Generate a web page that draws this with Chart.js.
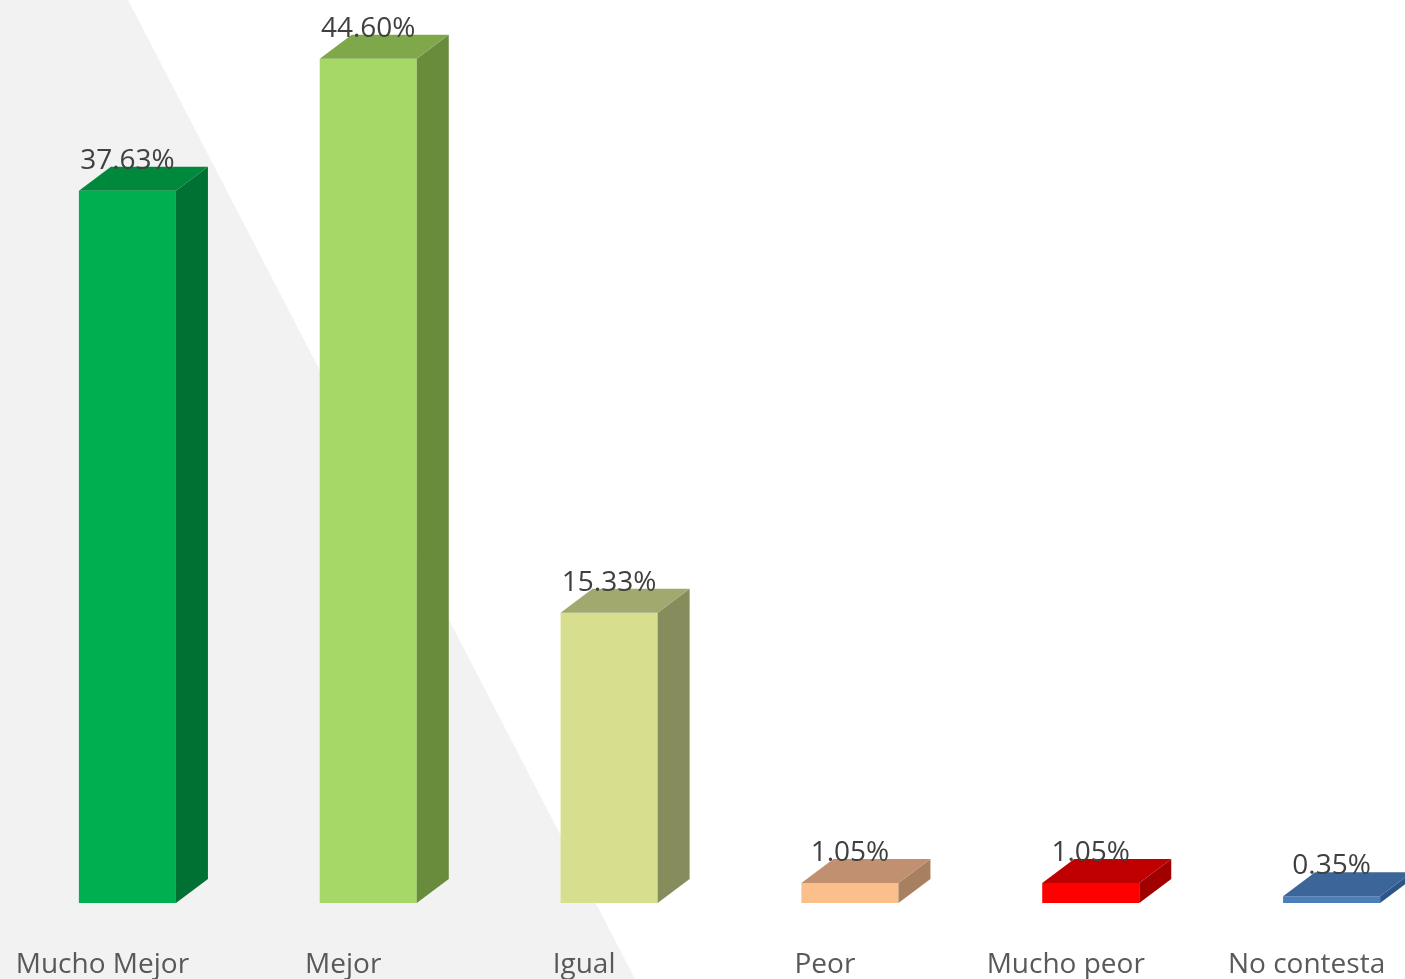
<!DOCTYPE html>
<html>
<head>
<meta charset="utf-8">
<script src="https://cdn.jsdelivr.net/npm/chart.js@4/dist/chart.umd.min.js"></script>
<style>
html,body{margin:0;padding:0;background:#fff;overflow:hidden;width:1405px;height:979px;}
canvas{display:block;}
</style>
</head>
<body>
<canvas id="c" width="1452" height="979"></canvas>
<script>
const categories = ["Mucho Mejor", "Mejor", "Igual", "Peor", "Mucho peor", "No contesta"];
const values = [37.63, 44.60, 15.33, 1.05, 1.05, 0.35];
const valueLabels = ["37.63%", "44.60%", "15.33%", "1.05%", "1.05%", "0.35%"];

const frontColors = ["#00b050", "#a6d867", "#d7df8f", "#fbbf8c", "#ff0000", "#4a7ebb"];
const sideColors  = ["#007033", "#698c3c", "#868c5c", "#a8805f", "#a00000", "#2f5588"];
const topColors   = ["#00883c", "#7ea84a", "#a2a96f", "#c09070", "#c00000", "#3c6699"];

const DX = 32, DY = -24;

const bgPlugin = {
  id: 'bg',
  beforeDraw(chart) {
    const ctx = chart.ctx;
    ctx.save();
    ctx.fillStyle = '#ffffff';
    ctx.fillRect(0, 0, chart.width, chart.height);
    ctx.fillStyle = '#f2f2f2';
    ctx.beginPath();
    ctx.moveTo(0, 0);
    ctx.lineTo(128, 0);
    ctx.lineTo(635, 979);
    ctx.lineTo(0, 979);
    ctx.closePath();
    ctx.fill();
    ctx.restore();
  }
};

const bar3d = {
  id: 'bar3d',
  afterDatasetsDraw(chart) {
    const ctx = chart.ctx;
    const meta = chart.getDatasetMeta(0);
    ctx.save();
    meta.data.forEach((el, i) => {
      const p = el.getProps(['x', 'y', 'base', 'width'], true);
      const l = p.x - p.width / 2, r = p.x + p.width / 2;
      ctx.fillStyle = sideColors[i];
      ctx.beginPath();
      ctx.moveTo(r, p.y);
      ctx.lineTo(r + DX, p.y + DY);
      ctx.lineTo(r + DX, p.base + DY);
      ctx.lineTo(r, p.base);
      ctx.closePath();
      ctx.fill();
      ctx.fillStyle = topColors[i];
      ctx.beginPath();
      ctx.moveTo(l, p.y);
      ctx.lineTo(l + DX, p.y + DY);
      ctx.lineTo(r + DX, p.y + DY);
      ctx.lineTo(r, p.y);
      ctx.closePath();
      ctx.fill();
    });
    ctx.fillStyle = '#404040';
    ctx.font = '28px "Open Sans"';
    ctx.textAlign = 'center';
    ctx.textBaseline = 'middle';
    meta.data.forEach((el, i) => {
      const p = el.getProps(['x', 'y'], true);
      ctx.fillText(valueLabels[i], p.x, p.y - 30);
    });
    ctx.restore();
  }
};

new Chart(document.getElementById('c'), {
  type: 'bar',
  data: {
    labels: categories,
    datasets: [{
      data: values,
      backgroundColor: frontColors,
      borderWidth: 0,
      categoryPercentage: 1.0,
      barPercentage: 0.403
    }]
  },
  options: {
    responsive: false,
    devicePixelRatio: 1,
    animation: false,
    layout: { padding: { left: 7, right: 0, top: 0, bottom: 0 } },
    plugins: { legend: { display: false }, tooltip: { enabled: false } },
    scales: {
      y: { display: false, min: 0, max: 47.7 },
      x: {
        grid: { display: false, drawTicks: false },
        border: { display: false },
        ticks: {
          color: '#595959',
          font: { family: 'Open Sans', size: 28 },
          padding: 45,
          labelOffset: -25,
          maxRotation: 0,
          autoSkip: false
        },
        afterFit(scale) {
          scale.height = 76;
          scale.paddingLeft = 0;
          scale.paddingRight = 0;
        }
      }
    }
  },
  plugins: [bgPlugin, bar3d]
});
</script>
</body>
</html>
